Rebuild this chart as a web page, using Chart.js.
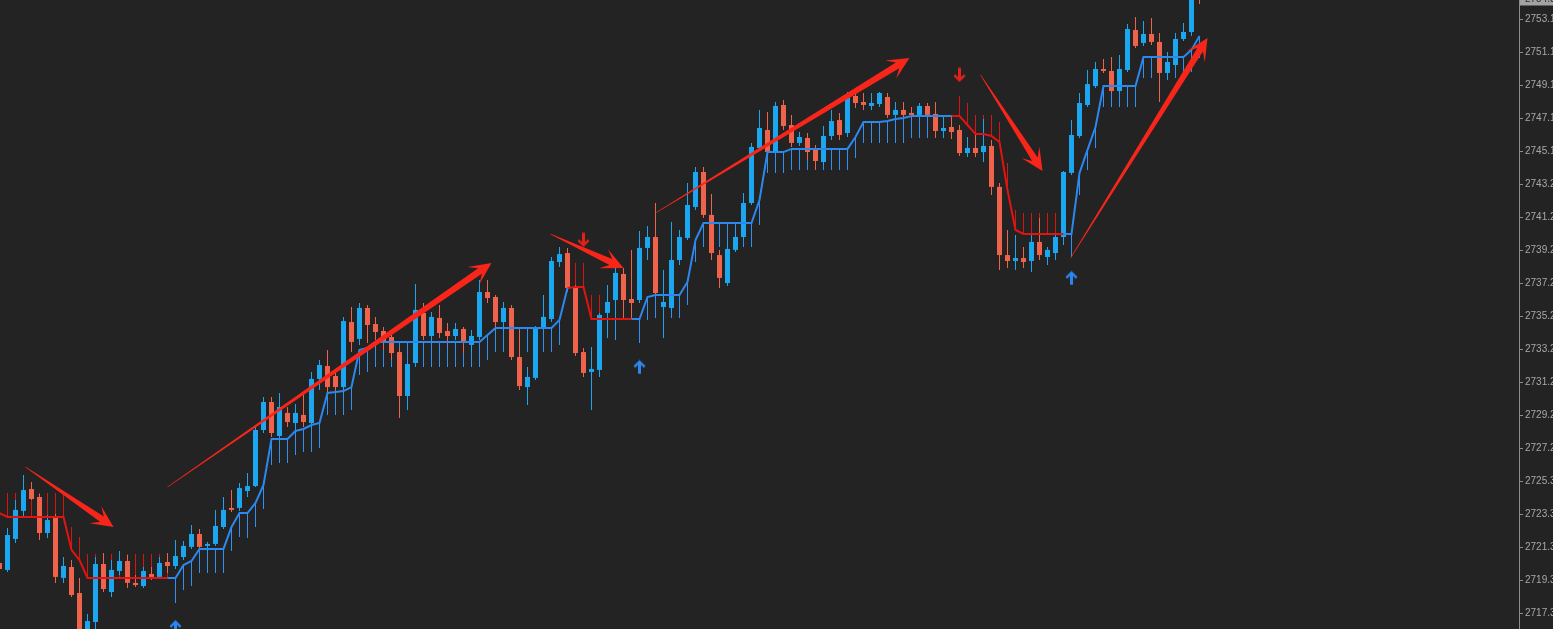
<!DOCTYPE html>
<html>
<head>
<meta charset="utf-8">
<script src="https://cdn.jsdelivr.net/npm/chart.js@4.4.1/dist/chart.umd.min.js"></script>
<style>
html,body{margin:0;padding:0;background:#232323;overflow:hidden}
#wrap{width:1553px;height:629px;position:relative}
</style>
</head>
<body>
<div id="wrap"><canvas id="c"></canvas></div>
<script>
// ---------- DATA ----------
const FIRST_BAR = -1; // index of the first (partly hidden) candle

const opens = [
 2720.34,2719.92,2721.79,2723.48,2724.80,2724.32,2722.15,2723.06,2719.44,2720.10,
 2718.53,2715.70,2716.78,2720.28,2718.59,2719.86,2720.46,2719.14,2718.95,2719.68,
 2719.50,2720.40,2720.16,2720.70,2721.31,2722.09,2721.37,2721.49,2722.51,2723.66,
 2723.66,2724.68,2724.98,2728.36,2730.05,2728.00,2729.39,2728.78,2729.27,2728.78,
 2731.44,2732.22,2731.62,2730.95,2734.87,2733.85,2735.72,2734.75,2734.33,2733.97,
 2733.06,2730.41,2732.40,2735.42,2734.03,2735.12,2734.33,2734.03,2734.45,2733.49,
 2733.97,2736.68,2736.38,2734.87,2735.72,2732.76,2730.95,2731.50,2734.51,2735.05,
 2738.49,2739.03,2736.98,2733.06,2731.86,2731.98,2735.42,2736.20,2737.77,2736.26,
 2736.20,2739.34,2740.00,2735.78,2735.72,2738.61,2739.94,2741.81,2743.92,2741.33,
 2738.91,2737.22,2739.22,2740.00,2742.05,2745.37,2746.45,2745.12,2747.96,2746.75,
 2745.67,2745.97,2745.31,2744.52,2746.09,2747.05,2746.27,2748.50,2748.14,2747.90,
 2748.02,2748.44,2747.36,2747.66,2747.48,2747.36,2747.90,2747.42,2746.39,2746.63,
 2746.45,2745.06,2745.37,2745.12,2745.49,2743.02,2738.91,2738.55,2738.73,2738.55,
 2739.70,2738.79,2739.03,2740.00,2743.86,2746.09,2747.96,2749.10,2750.13,2750.01,
 2748.80,2750.07,2752.48,2751.70,2752.24,2751.76,2749.89,2750.37,2751.94,2752.36,
 2754.65];

const highs = [
 2720.82,2722.45,2724.14,2725.65,2725.23,2724.50,2723.24,2723.30,2720.70,2720.52,
 2719.44,2717.27,2720.70,2720.94,2720.52,2721.06,2720.82,2719.62,2720.10,2720.10,
 2720.70,2720.94,2721.73,2721.67,2722.63,2722.39,2721.61,2723.54,2724.32,2724.74,
 2725.17,2725.77,2728.54,2730.35,2730.35,2730.59,2729.75,2729.93,2730.47,2731.86,
 2732.58,2733.19,2731.98,2735.18,2735.78,2736.02,2735.90,2735.18,2734.57,2734.21,
 2733.31,2732.40,2737.17,2736.02,2735.48,2735.90,2734.81,2734.81,2734.57,2734.39,
 2737.41,2737.41,2736.50,2736.08,2735.90,2734.39,2732.16,2734.63,2736.50,2738.79,
 2739.40,2739.34,2737.10,2733.31,2733.37,2735.42,2737.10,2738.13,2738.13,2739.22,
 2740.36,2740.66,2742.05,2738.01,2740.90,2740.42,2743.26,2744.22,2744.22,2742.59,
 2739.22,2739.70,2740.60,2742.65,2745.67,2747.66,2747.54,2748.14,2748.26,2747.36,
 2746.33,2746.27,2745.55,2746.69,2747.66,2747.48,2748.74,2748.80,2748.68,2748.68,
 2748.74,2748.68,2748.14,2748.14,2747.84,2748.08,2748.08,2748.14,2747.23,2747.36,
 2746.75,2746.03,2746.15,2747.11,2745.85,2743.26,2740.42,2740.12,2739.40,2740.24,
 2741.14,2739.40,2740.24,2743.98,2747.05,2748.68,2750.07,2750.55,2750.73,2750.85,
 2750.97,2752.84,2753.26,2753.02,2753.20,2752.30,2751.15,2752.30,2752.90,2754.77,
 2754.89];

const lows = [
 2719.80,2719.80,2721.55,2723.12,2724.14,2721.73,2721.85,2719.14,2719.14,2718.29,
 2715.40,2715.22,2716.36,2718.59,2718.29,2719.62,2718.83,2718.89,2718.83,2719.32,
 2719.38,2719.74,2719.98,2720.52,2721.19,2721.19,2720.94,2721.37,2722.39,2723.42,
 2723.48,2724.32,2724.92,2728.18,2727.94,2727.76,2728.54,2728.36,2728.54,2728.54,
 2730.77,2730.65,2730.65,2730.77,2733.06,2733.49,2733.61,2733.79,2733.19,2732.58,
 2729.09,2729.57,2732.16,2733.79,2733.61,2733.91,2733.49,2733.79,2733.00,2733.06,
 2733.79,2736.02,2734.39,2734.39,2732.58,2730.77,2729.87,2731.38,2734.39,2734.87,
 2738.19,2736.68,2732.82,2731.56,2729.57,2731.56,2733.91,2733.79,2735.11,2735.11,
 2736.02,2738.61,2736.44,2733.91,2735.48,2738.31,2739.82,2741.63,2741.15,2738.61,
 2736.92,2737.04,2739.09,2739.82,2741.93,2745.25,2744.94,2745.01,2746.45,2745.43,
 2745.49,2744.64,2744.04,2744.34,2745.85,2745.85,2746.03,2747.78,2747.66,2747.66,
 2747.84,2747.17,2747.17,2747.23,2747.17,2747.23,2747.23,2745.97,2745.97,2745.91,
 2744.88,2744.82,2744.82,2744.52,2742.53,2738.01,2738.13,2738.01,2738.13,2737.89,
 2738.61,2738.31,2738.61,2739.52,2743.74,2745.97,2747.84,2748.98,2749.89,2748.68,
 2748.68,2749.95,2751.40,2751.52,2751.58,2748.14,2749.47,2750.19,2751.82,2752.12,
 2754.05];

const closes = [
 2719.98,2722.03,2723.54,2724.74,2724.20,2722.15,2722.93,2719.50,2720.16,2718.41,
 2715.94,2716.84,2720.28,2718.77,2719.92,2720.46,2719.14,2719.01,2719.86,2719.50,
 2720.34,2720.16,2720.76,2721.37,2722.09,2721.31,2721.49,2722.57,2723.54,2723.54,
 2724.86,2724.98,2728.36,2730.05,2728.18,2729.75,2728.84,2729.39,2728.84,2731.44,
 2732.28,2730.95,2730.95,2734.93,2733.67,2735.72,2734.69,2734.27,2733.67,2733.00,
 2730.41,2732.34,2735.60,2734.03,2735.18,2734.21,2734.03,2734.45,2733.61,2734.03,
 2736.68,2736.32,2734.87,2735.72,2732.76,2731.01,2731.56,2734.57,2735.18,2738.55,
 2738.97,2736.92,2733.00,2731.80,2732.04,2735.30,2736.08,2737.83,2736.20,2736.02,
 2739.34,2740.00,2736.62,2736.08,2738.61,2740.00,2741.93,2743.92,2741.33,2739.03,
 2737.53,2739.28,2740.00,2742.05,2745.43,2746.57,2745.12,2747.90,2746.69,2745.67,
 2746.03,2745.12,2744.58,2746.09,2746.99,2746.15,2748.44,2748.08,2747.96,2748.08,
 2748.68,2747.36,2747.66,2747.36,2747.36,2747.90,2747.36,2746.39,2746.57,2746.33,
 2745.06,2745.37,2745.06,2745.49,2743.02,2738.91,2738.55,2738.73,2738.49,2739.70,
 2738.91,2739.22,2740.00,2743.92,2746.15,2748.08,2749.22,2750.13,2750.01,2748.80,
 2750.13,2752.54,2751.52,2752.24,2751.76,2749.89,2750.55,2751.94,2752.36,2754.47,
 2754.35];

// trailing-stop line: uptrend (blue) and downtrend (red) buffers
const upTrend = [
 null,null,null,null,null,null,null,null,null,null,
 null,null,null,null,null,null,null,null,null,null,
 null,2719.44,2719.44,2720.22,2720.46,2721.19,2721.19,2721.19,2721.19,2722.51,
 2723.35,2723.35,2723.96,2725.05,2727.82,2727.82,2727.82,2728.30,2728.42,2728.66,
 2728.78,2730.59,2730.65,2730.71,2730.95,2733.19,2733.31,2733.67,2733.67,2733.67,
 2733.67,2733.67,2733.67,2733.67,2733.67,2733.67,2733.67,2733.67,2733.67,2733.67,
 2733.67,2734.09,2734.51,2734.51,2734.51,2734.51,2734.51,2734.51,2734.51,2734.51,
 2734.99,2736.92,null,null,null,null,null,null,null,2735.05,
 2735.05,2736.38,2736.50,2736.50,2736.50,2736.50,2737.29,2739.82,2740.84,2740.84,
 2740.84,2740.84,2740.84,2740.84,2740.84,2742.23,2745.12,2745.12,2745.12,2745.31,
 2745.31,2745.31,2745.31,2745.31,2745.31,2745.31,2745.31,2746.03,2746.93,2746.93,
 2746.93,2746.99,2747.11,2747.17,2747.29,2747.29,2747.29,2747.29,2747.29,2747.29,
 null,null,null,null,null,null,null,null,null,null,
 null,null,null,2740.18,2740.18,2743.86,2745.25,2746.63,2749.10,2749.10,
 2749.10,2749.10,2749.10,2750.85,2750.85,2750.85,2750.85,2750.85,2750.85,2751.28,
 2752.12];

const downTrend = [
 2723.35,2723.12,2723.12,2723.12,2723.12,2723.12,2723.12,2723.12,2723.12,2721.13,
 2720.52,2719.44,2719.44,2719.44,2719.44,2719.44,2719.44,2719.44,2719.44,2719.44,
 2719.44,2719.44,null,null,null,null,null,null,null,null,
 null,null,null,null,null,null,null,null,null,null,
 null,null,null,null,null,null,null,null,null,null,
 null,null,null,null,null,null,null,null,null,null,
 null,null,null,null,null,null,null,null,null,null,
 null,2736.92,2736.98,2736.98,2735.05,2735.05,2735.05,2735.05,2735.05,2735.05,
 null,null,null,null,null,null,null,null,null,null,
 null,null,null,null,null,null,null,null,null,null,
 null,null,null,null,null,null,null,null,null,null,
 null,null,null,null,null,null,null,null,null,2747.29,
 2747.29,2746.75,2746.21,2746.21,2746.09,2745.73,2742.83,2740.42,2740.18,2740.18,
 2740.18,2740.18,2740.18,2740.18,null,null,null,null,null,null,
 null,null,null,null,null,null,null,null,null,null,
 null];

// end of the short vertical spikes (lower band under blue line, upper band over red line)
const upBand = [
 null,null,null,null,null,null,null,null,null,null,
 null,null,null,null,null,null,null,null,null,null,
 null,null,2717.93,2718.71,2718.95,2719.74,2719.74,2719.74,2719.74,2721.06,
 2721.91,2721.85,2722.51,2723.60,2726.25,2726.37,2726.37,2726.85,2727.03,2727.03,
 2727.28,2729.27,2729.27,2729.27,2729.57,2731.68,2731.86,2732.16,2732.16,2732.16,
 2732.16,2732.16,2732.16,2732.16,2732.16,2732.16,2732.16,2732.16,2732.16,2732.16,
 2732.16,2732.58,2733.06,2733.06,2733.06,2733.06,2733.06,2733.06,2733.06,2733.06,
 2733.49,null,null,null,null,null,null,null,null,null,
 2733.61,2734.99,2735.11,2735.11,2735.11,2735.11,2735.90,2738.49,2739.40,2739.40,
 2739.40,2739.40,2739.40,2739.40,2739.40,2740.72,2743.86,2743.86,2743.86,2744.04,
 2744.04,2744.04,2744.04,2744.04,2744.04,2744.04,2744.04,2744.76,2745.67,2745.67,
 2745.67,2745.67,2745.67,2745.67,2745.97,2745.97,2745.97,2745.97,2745.97,2745.97,
 null,null,null,null,null,null,null,null,null,null,
 null,null,null,null,2738.79,2742.53,2744.04,2745.37,2747.84,2747.84,
 2747.84,2747.84,2747.84,2749.59,2749.59,2749.59,2749.59,2749.59,2749.59,2749.95,
 2750.79];

const dnBand = [
 2724.74,2724.56,2724.56,2724.56,2724.56,2724.56,2724.56,2724.56,2724.56,2722.51,
 2721.91,2720.88,2720.88,2720.88,2720.88,2720.88,2720.88,2720.88,2720.88,2720.88,
 2720.88,2720.88,null,null,null,null,null,null,null,null,
 null,null,null,null,null,null,null,null,null,null,
 null,null,null,null,null,null,null,null,null,null,
 null,null,null,null,null,null,null,null,null,null,
 null,null,null,null,null,null,null,null,null,null,
 null,null,2738.43,2738.43,2736.50,2736.50,2736.50,2736.50,2736.50,2736.50,
 null,null,null,null,null,null,null,null,null,null,
 null,null,null,null,null,null,null,null,null,null,
 null,null,null,null,null,null,null,null,null,null,
 null,null,null,null,null,null,null,null,null,null,
 2748.50,2748.08,2747.36,2747.36,2747.36,2746.93,2744.46,2741.63,2741.45,2741.45,
 2741.45,2741.45,2741.45,null,null,null,null,null,null,null,
 null,null,null,null,null,null,null,null,null,null,
 null];

// signal arrows (bar index, price)
const upArrowIdx = [21, 79, 133];
const upArrowPrice = [2716.48, 2732.16, 2737.53];
const dnArrowIdx = [72, 119];
const dnArrowPrice = [2739.82, 2749.77];

// hand-drawn trend annotations (bar index, price)
const noteFromIdx = [2.25, 20.0, 67.875, 81.0, 121.625, 132.875];
const noteFromPrice = [2726.13, 2724.92, 2740.18, 2741.45, 2749.77, 2738.73];
const noteToIdx = [13.25, 60.5, 77.0, 112.75, 129.375, 150.0];
const noteToPrice = [2722.51, 2738.43, 2738.13, 2750.79, 2743.98, 2752.00];

// price axis ticks
const tickValues = [2753.14,2751.15,2749.16,2747.17,2745.18,2743.19,2741.20,2739.21,2737.22,2735.23,
                    2733.24,2731.25,2729.26,2727.27,2725.28,2723.29,2721.30,2719.31,2717.32];
const tickLabels = ['2753.1','2751.1','2749.1','2747.1','2745.1','2743.2','2741.2','2739.2','2737.2','2735.2',
                    '2733.2','2731.2','2729.2','2727.2','2725.3','2723.3','2721.3','2719.3','2717.3'];

// ---------- STYLE / LAYOUT ----------
const X_MIN = -0.9375, X_MAX = 188.9375;
const Y_MIN = 2716.36, Y_MAX = 2754.29;
const BULL = '#1ba6ef', BEAR = '#ef624b';
const UP_LINE = '#2c88ec', UP_SPIKE = '#3190f4', DN_LINE = '#e01512', DN_SPIKE = '#d8150f';
const BG = '#232323';

const xs = opens.map((_, i) => i + FIRST_BAR);
const isBull = i => closes[i] >= opens[i];

function arrowIcon(color, down) {
  const cv = document.createElement('canvas');
  cv.width = 13; cv.height = 15;
  const g = cv.getContext('2d');
  g.fillStyle = color;
  if (down) { g.translate(0, 15); g.scale(1, -1); }
  g.beginPath();
  g.moveTo(6.5, 0.5); g.lineTo(12.5, 6.5); g.lineTo(10.8, 8.2); g.lineTo(8, 5.4);
  g.lineTo(8, 14.5); g.lineTo(5, 14.5); g.lineTo(5, 5.4); g.lineTo(2.2, 8.2);
  g.lineTo(0.5, 6.5); g.closePath(); g.fill();
  return cv;
}

function drawNote(ctx, x0, y0, x1, y1) {
  const dx = x1 - x0, dy = y1 - y0, L = Math.hypot(dx, dy);
  const ux = dx / L, uy = dy / L, nx = -uy, ny = ux;
  const headLen = 22, headHalf = 10.5, neck = L - 14, wT = 0.3, wN = 3.3;
  const P = (s, t) => [x0 + ux * s + nx * t, y0 + uy * s + ny * t];
  const pts = [P(0, -wT), P(neck, -wN), P(L - headLen, -headHalf), P(L, 0),
               P(L - headLen, headHalf), P(neck, wN), P(0, wT)];
  ctx.fillStyle = '#f8261a';
  ctx.beginPath();
  pts.forEach((p, i) => i ? ctx.lineTo(p[0], p[1]) : ctx.moveTo(p[0], p[1]));
  ctx.closePath();
  ctx.fill();
}

const bgPlugin = {
  id: 'bg',
  beforeDraw(c) { const g = c.ctx; g.save(); g.fillStyle = BG; g.fillRect(0, 0, c.width, c.height); g.restore(); }
};
const notesPlugin = {
  id: 'notes',
  afterDatasetsDraw(c) {
    const g = c.ctx, a = c.chartArea, x = c.scales.x, y = c.scales.y;
    g.save();
    g.beginPath(); g.rect(a.left, a.top, a.right - a.left, a.bottom - a.top); g.clip();
    for (let i = 0; i < noteFromIdx.length; i++) {
      drawNote(g, x.getPixelForValue(noteFromIdx[i]), y.getPixelForValue(noteFromPrice[i]),
                  x.getPixelForValue(noteToIdx[i]), y.getPixelForValue(noteToPrice[i]));
    }
    g.restore();
  }
};
const priceTag = {
  id: 'priceTag',
  afterDraw(c) {
    const g = c.ctx, a = c.chartArea, y = c.scales.y;
    const v = closes[closes.length - 1];
    const py = y.getPixelForValue(v);
    g.save();
    g.fillStyle = '#a3a3a3';
    g.fillRect(a.right + 1, py - 6.5, 40, 13);
    g.fillStyle = '#303030';
    g.font = '10px "Liberation Sans", Arial, sans-serif';
    g.textBaseline = 'middle';
    g.fillText(v.toFixed(2), a.right + 6, py);
    g.restore();
  }
};

const barCommon = { grouped: false, inflateAmount: 0, borderWidth: 0, borderSkipped: false };

const datasets = [
  Object.assign({
    label: 'upSpikes', type: 'bar', order: 5, maxBarThickness: 1, backgroundColor: UP_SPIKE,
    data: xs.map((x, i) => upBand[i] == null ? null : { x, y: [upTrend[i], upBand[i]] }).filter(Boolean)
  }, barCommon),
  Object.assign({
    label: 'dnSpikes', type: 'bar', order: 5, maxBarThickness: 1, backgroundColor: DN_SPIKE,
    data: xs.map((x, i) => dnBand[i] == null ? null : { x, y: [downTrend[i], dnBand[i]] }).filter(Boolean)
  }, barCommon),
  Object.assign({
    label: 'wicks', type: 'bar', order: 4, maxBarThickness: 1,
    backgroundColor: ctx => isBull(ctx.dataIndex) ? BULL : BEAR,
    data: xs.map((x, i) => ({ x, y: [lows[i], highs[i]] }))
  }, barCommon),
  Object.assign({
    label: 'bodies', type: 'bar', order: 3, maxBarThickness: 5, minBarLength: 1.5,
    backgroundColor: ctx => isBull(ctx.dataIndex) ? BULL : BEAR,
    data: xs.map((x, i) => ({ x, y: [opens[i], closes[i]] }))
  }, barCommon),
  {
    label: 'upTrend', type: 'line', order: 2, borderColor: UP_LINE, borderWidth: 2,
    pointRadius: 0, spanGaps: false, tension: 0,
    data: xs.map((x, i) => ({ x, y: upTrend[i] }))
  },
  {
    label: 'downTrend', type: 'line', order: 2, borderColor: DN_LINE, borderWidth: 2,
    pointRadius: 0, spanGaps: false, tension: 0,
    data: xs.map((x, i) => ({ x, y: downTrend[i] }))
  },
  {
    label: 'buy', type: 'scatter', order: 1, pointStyle: arrowIcon('#2b86f0', false), pointRadius: 7,
    data: upArrowIdx.map((x, i) => ({ x, y: upArrowPrice[i] }))
  },
  {
    label: 'sell', type: 'scatter', order: 1, pointStyle: arrowIcon('#e4201a', true), pointRadius: 7,
    data: dnArrowIdx.map((x, i) => ({ x, y: dnArrowPrice[i] }))
  }
];

new Chart(document.getElementById('c'), {
  type: 'bar',
  data: { datasets },
  options: {
    responsive: true,
    maintainAspectRatio: false,
    animation: false,
    events: [],
    layout: { padding: 0, autoPadding: false },
    plugins: { legend: { display: false }, tooltip: { enabled: false } },
    scales: {
      x: {
        type: 'linear', display: false, min: X_MIN, max: X_MAX, offset: false,
        grid: { display: false }, ticks: { display: false },
        afterFit: s => { s.paddingLeft = 0; s.paddingRight = 0; s.paddingTop = 0; s.paddingBottom = 0; }
      },
      y: {
        type: 'linear', position: 'right', min: Y_MIN, max: Y_MAX,
        afterBuildTicks: s => { s.ticks = tickValues.map(v => ({ value: v })); },
        afterFit: s => { s.width = 34; s.paddingTop = 0; s.paddingBottom = 0; },
        ticks: {
          callback: (v, i) => tickLabels[i], autoSkip: false, padding: 2, crossAlign: 'near',
          color: '#a8a8a8', font: { family: '"Liberation Sans", Arial, sans-serif', size: 10 }
        },
        grid: { drawOnChartArea: false, drawTicks: true, tickLength: 4, color: '#8c8c8c' },
        border: { display: true, color: '#8c8c8c', width: 1 }
      }
    }
  },
  plugins: [bgPlugin, notesPlugin, priceTag]
});
</script>
</body>
</html>
